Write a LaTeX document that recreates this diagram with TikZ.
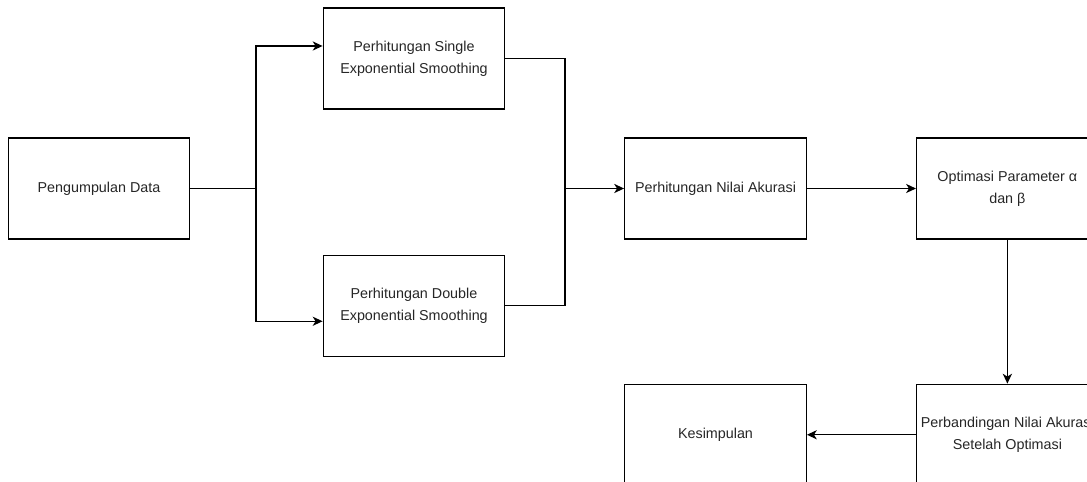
\documentclass[tikz,border=0pt]{standalone}
\usepackage{fontspec}
\setmainfont{Liberation Sans}
\usetikzlibrary{arrows.meta,positioning}

\begin{document}
\begin{tikzpicture}[
  arr/.style={-{Stealth[length=7pt,width=6.5pt,inset=2pt]}, line width=0.9pt},
  link/.style={line width=0.9pt},
  proc/.style={rectangle, draw, line width=0.9pt, minimum width=4.54cm, minimum height=2.525cm,
               align=center, inner sep=2pt, text=black!85,
               font=\fontsize{10.2}{15.6}\selectfont},
]
\useasboundingbox (0,0) rectangle (27.175,-12.05);

\node[proc] (data) at (2.475,-4.7125) {Pengumpulan Data};
\node[proc] (single) at (10.35,-1.4625) {Perhitungan Single\\Exponential Smoothing};
\node[proc, below=3.625cm of single] (double) {Perhitungan Double\\Exponential Smoothing};
\node[proc] (akurasi) at (17.8875,-4.7125) {Perhitungan Nilai Akurasi};
\node[proc, right=2.725cm of akurasi] (optimasi) {Optimasi Parameter α\\dan β};
\node[proc, below=3.6cm of optimasi] (banding) {Perbandingan Nilai Akurasi\\Setelah Optimasi};
\node[proc, left=2.725cm of banding] (simpul) {Kesimpulan};

% split and merge points
\coordinate (jL) at (6.4,-4.7125);
\coordinate (jR) at (14.125,-4.7125);

% fan out
\draw[link] (data.east) -- (jL);
\draw[arr] (jL) |- ([yshift=0.3125cm]single.west);
\draw[arr] (jL) |- ([yshift=-0.3875cm]double.west);

% merge
\draw[link] (single.east) -| (jR);
\draw[link] (double.east) -| (jR);
\draw[arr] (jR) -- (akurasi.west);

% rest of the flow
\draw[arr] (akurasi) -- (optimasi);
\draw[arr] (optimasi) -- (banding);
\draw[arr] (banding) -- (simpul);
\end{tikzpicture}
\end{document}
